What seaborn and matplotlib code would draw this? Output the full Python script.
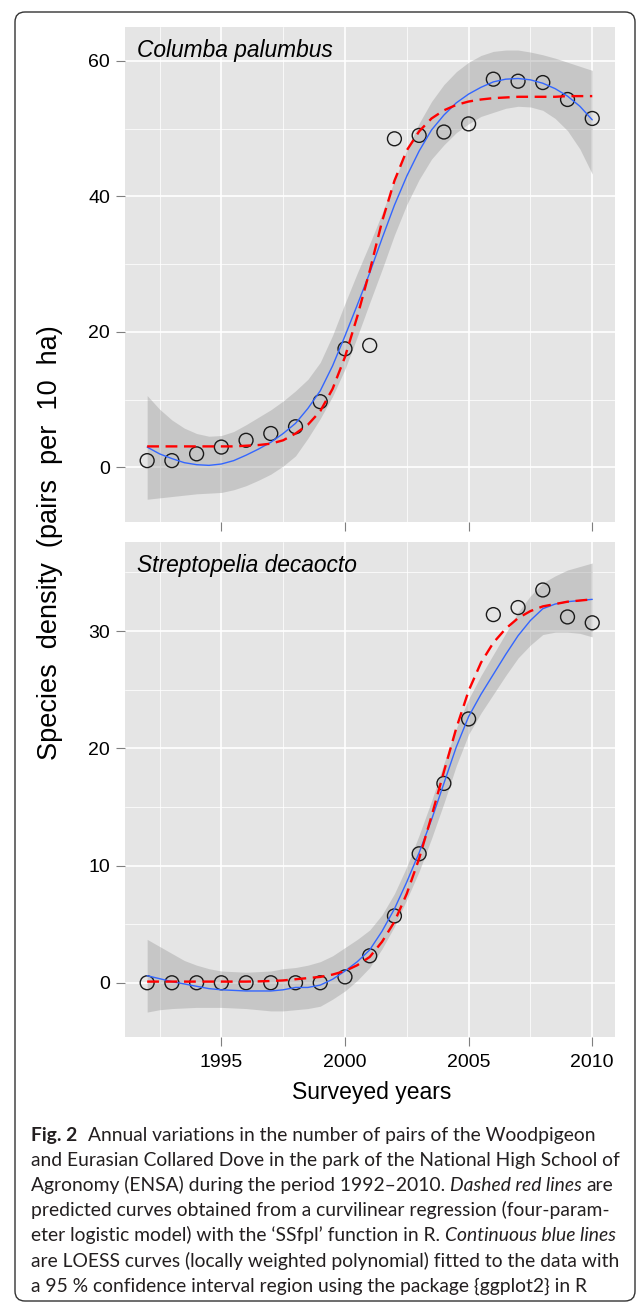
import numpy as np
import pandas as pd
import matplotlib
matplotlib.use("Agg")
import matplotlib.pyplot as plt
import seaborn as sns
from matplotlib import font_manager as fm
from matplotlib.patches import FancyBboxPatch
from matplotlib.transforms import IdentityTransform
from matplotlib.ticker import FixedLocator

# ---------------- data ----------------
years = list(range(1992, 2011))
palumbus_pairs = [1.0, 1.0, 2.0, 3.0, 4.0, 5.0, 6.0, 9.7, 17.5, 18.0,
                  48.5, 49.0, 49.5, 50.7, 57.3, 57.0, 56.8, 54.3, 51.5]
decaocto_pairs = [0.0, 0.0, 0.0, 0.0, 0.0, 0.0, 0.0, 0.0, 0.5, 2.3,
                  5.7, 11.0, 17.0, 22.5, 31.4, 32.0, 33.5, 31.2, 30.7]

curve_years = [1992, 1992.5, 1993, 1993.5, 1994, 1994.5, 1995, 1995.5, 1996, 1996.5,
               1997, 1997.5, 1998, 1998.5, 1999, 1999.5, 2000, 2000.5, 2001, 2001.5,
               2002, 2002.5, 2003, 2003.5, 2004, 2004.5, 2005, 2005.5, 2006, 2006.5,
               2007, 2007.5, 2008, 2008.5, 2009, 2009.5, 2010]

palumbus_logistic = [3.1, 3.1, 3.1, 3.1, 3.1, 3.1, 3.1, 3.1, 3.2, 3.3,
                     3.5, 4.0, 5.0, 6.3, 8.3, 11.6, 16.3, 22.3, 29.0, 36.3,
                     42.3, 46.8, 49.6, 51.5, 52.7, 53.5, 54.0, 54.3, 54.5, 54.6,
                     54.7, 54.7, 54.7, 54.7, 54.8, 54.8, 54.8]
palumbus_loess = [3.0, 2.0, 1.3, 0.7, 0.4, 0.3, 0.5, 1.0, 1.8, 2.7,
                  3.7, 5.0, 6.5, 8.7, 11.3, 15.0, 19.4, 24.0, 28.7, 33.8,
                  38.7, 43.0, 46.7, 49.8, 52.0, 53.8, 55.1, 56.1, 56.9, 57.3,
                  57.4, 57.2, 56.7, 55.9, 54.8, 53.3, 51.3]
palumbus_ci_high = [10.6, 8.6, 7.0, 5.8, 5.0, 4.6, 4.7, 5.3, 6.3, 7.4,
                    8.5, 9.8, 11.3, 13.0, 15.5, 19.5, 24.2, 28.7, 33.0, 37.5,
                    42.3, 46.8, 50.8, 54.0, 56.5, 58.4, 59.8, 60.8, 61.4, 61.6,
                    61.6, 61.3, 60.9, 60.4, 59.8, 59.2, 58.6]
palumbus_ci_low = [-4.7, -4.5, -4.3, -4.1, -3.9, -3.8, -3.7, -3.3, -2.7, -1.9,
                   -1.0, 0.2, 1.7, 4.3, 7.2, 10.5, 14.5, 19.3, 24.3, 29.2,
                   34.3, 38.8, 42.5, 45.5, 47.6, 49.4, 50.7, 51.8, 52.4, 53.0,
                   53.3, 53.2, 52.7, 51.5, 49.7, 47.0, 43.3]

decaocto_logistic = [0.1, 0.1, 0.1, 0.1, 0.1, 0.1, 0.1, 0.1, 0.1, 0.12,
                     0.15, 0.2, 0.3, 0.4, 0.5, 0.7, 1.0, 1.5, 2.2, 3.5,
                     5.2, 7.6, 10.6, 14.2, 18.0, 21.7, 24.9, 27.3, 29.0, 30.2,
                     31.1, 31.7, 32.1, 32.3, 32.5, 32.6, 32.7]
decaocto_loess = [0.6, 0.35, 0.1, -0.1, -0.3, -0.5, -0.6, -0.65, -0.7, -0.7,
                  -0.7, -0.6, -0.4, -0.4, -0.2, 0.3, 1.0, 1.8, 2.8, 4.4,
                  6.3, 8.6, 11.1, 13.9, 17.0, 20.1, 22.7, 24.6, 26.3, 28.0,
                  29.6, 30.9, 31.9, 32.3, 32.5, 32.6, 32.7]
decaocto_ci_high = [3.7, 3.1, 2.5, 1.9, 1.5, 1.2, 1.0, 0.95, 0.9, 0.95,
                    1.0, 1.2, 1.3, 1.5, 1.8, 2.3, 3.0, 3.7, 4.5, 5.8,
                    7.6, 9.9, 12.6, 15.5, 18.7, 21.7, 24.2, 26.2, 28.0, 29.8,
                    31.6, 33.0, 34.1, 34.7, 35.2, 35.5, 35.8]
decaocto_ci_low = [-2.5, -2.3, -2.2, -2.15, -2.1, -2.1, -2.1, -2.15, -2.2, -2.3,
                   -2.4, -2.4, -2.3, -2.2, -2.0, -1.4, -0.7, 0.2, 1.3, 2.9,
                   4.8, 7.1, 9.5, 12.3, 15.3, 18.5, 21.2, 23.0, 24.6, 26.2,
                   27.7, 28.8, 29.7, 29.9, 29.9, 29.8, 29.5]

species_names = ["Columba palumbus", "Streptopelia decaocto"]
x_ticks = [1995, 2000, 2005, 2010]
x_minor = [1992.5, 1997.5, 2002.5, 2007.5]
top_y_ticks = [0, 20, 40, 60]
top_y_minor = [10, 30, 50]
bottom_y_ticks = [0, 10, 20, 30]
bottom_y_minor = [5, 15, 25, 35]
x_title = "Surveyed years"
y_title = "Species  density  (pairs  per  10  ha)"

caption_lines = [
    [("Fig. 2", "bold", "normal"), ("Annual variations in the number of pairs of the Woodpigeon", "normal", "normal")],
    [("and Eurasian Collared Dove in the park of the National High School of", "normal", "normal")],
    [("Agronomy (ENSA) during the period 1992\u20132010.", "normal", "normal"),
     ("Dashed red lines", "normal", "italic"), ("are", "normal", "normal")],
    [("predicted curves obtained from a curvilinear regression (four-param-", "normal", "normal")],
    [("eter logistic model) with the \u2018SSfpl\u2019 function in R.", "normal", "normal"),
     ("Continuous blue lines", "normal", "italic")],
    [("are LOESS curves (locally weighted polynomial) fitted to the data with", "normal", "normal")],
    [("a 95 % confidence interval region using the package {ggplot2} in R", "normal", "normal")],
]

# ---------------- style ----------------
sns.set_theme(style="darkgrid", rc={"axes.facecolor": "#E5E5E5", "grid.color": "white"})
plt.rcParams["font.family"] = ["Liberation Sans", "DejaVu Sans"]

W, H = 636, 1304
fig = plt.figure(figsize=(W / 100, H / 100), dpi=100)
fig.patch.set_facecolor("white")

ax_top = fig.add_axes([124.9 / W, 1 - 521.6 / H, 489.6 / W, 494.6 / H])
ax_bot = fig.add_axes([124.9 / W, 1 - 1036.7 / H, 489.6 / W, 494.8 / H])

panels = [
    (ax_top, palumbus_pairs, palumbus_logistic, palumbus_loess, palumbus_ci_low, palumbus_ci_high,
     (-8.0, 65.0), top_y_ticks, top_y_minor, species_names[0]),
    (ax_bot, decaocto_pairs, decaocto_logistic, decaocto_loess, decaocto_ci_low, decaocto_ci_high,
     (-4.6, 37.6), bottom_y_ticks, bottom_y_minor, species_names[1]),
]

for ax, pts, logi, lo, cil, cih, ylim, yt, ytm, name in panels:
    ax.fill_between(curve_years, cil, cih, color="#999999", alpha=0.4, lw=0, zorder=2)
    sns.scatterplot(x=years, y=pts, ax=ax, s=100, marker="o", zorder=3)
    coll = ax.collections[-1]
    coll.set_facecolor("none")
    coll.set_edgecolor("#1a1a1a")
    coll.set_linewidth(1.0)
    sns.lineplot(x=curve_years, y=lo, ax=ax, color="#3366FF", linewidth=1.0,
                 errorbar=None, sort=False, zorder=4)
    sns.lineplot(x=curve_years, y=logi, ax=ax, color="#FF0000", linewidth=1.7,
                 linestyle=(0, (5, 2.8)), errorbar=None, sort=False, zorder=5)
    ax.set_xlim(1991.1, 2010.9)
    ax.set_ylim(*ylim)
    ax.xaxis.set_major_locator(FixedLocator(x_ticks))
    ax.xaxis.set_minor_locator(FixedLocator(x_minor))
    ax.yaxis.set_major_locator(FixedLocator(yt))
    ax.yaxis.set_minor_locator(FixedLocator(ytm))
    ax.grid(which="major", color="white", linewidth=1.2)
    ax.grid(which="minor", color="white", linewidth=0.55)
    ax.set_axisbelow(True)
    ax.tick_params(which="major", bottom=True, left=True, length=6.2, width=0.8,
                   color="#7F7F7F", labelsize=14, labelcolor="black")
    ax.tick_params(axis="x", which="major", pad=6.0)
    ax.tick_params(axis="y", which="major", pad=4.5)
    ax.tick_params(which="minor", length=0)
    for sp in ax.spines.values():
        sp.set_visible(False)
    ax.set_xlabel("")
    ax.set_ylabel("")
    ax.text(0.024, 0.940, name, transform=ax.transAxes, fontsize=16.4, style="italic",
            va="baseline", ha="left", color="black")

ax_top.tick_params(labelbottom=False)

fig.text(371.7 / W, 1 - 1099 / H, x_title, ha="center", va="baseline", fontsize=16.5, color="black")
fig.text(50.5 / W, 1 - 543 / H, y_title, rotation=90, ha="center", va="center",
         fontsize=19.5, color="black")

# ---------------- caption ----------------
avail = {f.name for f in fm.fontManager.ttflist}
cap_family = "Open Sans"
for cand in ["Liberation Sans Narrow", "Lato", "Open Sans"]:
    if cand in avail:
        cap_family = cand
        break
fig.canvas.draw()
renderer = fig.canvas.get_renderer()


def text_width(s, size, weight="normal", style="normal"):
    t = fig.text(0, 0, s, fontsize=size, family=[cap_family, "DejaVu Sans"], weight=weight, style=style)
    w = t.get_window_extent(renderer).width
    t.remove()
    return w


cap_size = 10 * 589.0 / text_width(caption_lines[1][0][0], 10)
space_w = text_width("a a", cap_size) - text_width("aa", cap_size)

x0 = 30.7
for k, line in enumerate(caption_lines):
    yb = 1140.7 + 25.17 * k
    x = x0
    for j, (s, weight, style) in enumerate(line):
        if j > 0:
            x += space_w * (2.3 if k == 0 and j == 1 else 1.0)
        t = fig.text(x / W, 1 - yb / H, s, fontsize=cap_size, family=[cap_family, "DejaVu Sans"],
                     weight=weight, style=style, ha="left", va="baseline", color="#231F20")
        bb = t.get_window_extent(renderer)
        x = bb.x1

# ---------------- frame ----------------
frame = FancyBboxPatch((15, 3), 620, 1289, boxstyle="round,pad=0,rounding_size=10",
                       transform=IdentityTransform(), fill=False, edgecolor="#333333", lw=1.0)
fig.add_artist(frame)

fig.savefig("out.png", dpi=100)
